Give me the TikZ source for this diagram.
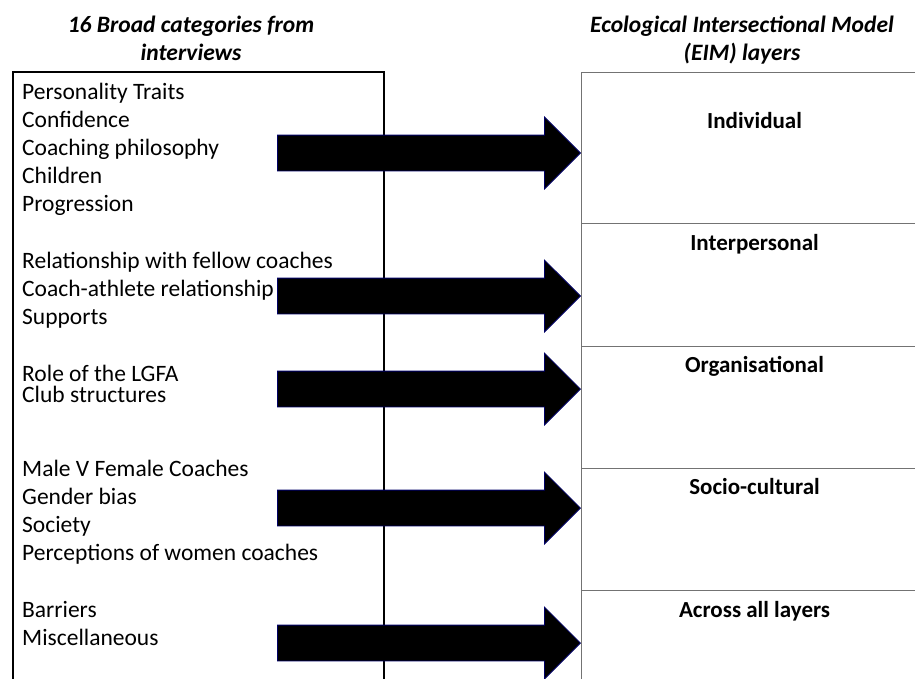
\documentclass[tikz,border=0pt]{standalone}
\usepackage{fontspec}
\setmainfont{Carlito}
\usetikzlibrary{positioning,shapes.arrows}

\begin{document}
\begin{tikzpicture}[x=1pt,y=-1pt,
  catbox/.style={draw,line width=1.8pt,minimum width=371pt,minimum height=660pt,anchor=north west},
  layer/.style={draw=black!55,line width=1.1pt,minimum width=346pt,anchor=north west},
  item/.style={align=left,anchor=base west,inner sep=0pt,font=\fontsize{23.5}{28}\selectfont},
  head/.style={align=center,anchor=base,inner sep=0pt,font=\fontsize{23.5}{28}\selectfont\bfseries\itshape},
  laytitle/.style={anchor=base,inner sep=0pt,font=\fontsize{23}{28}\selectfont\bfseries},
  bigarr/.style={single arrow,fill=black,draw=blue!40!black,line width=0.8pt,inner sep=0pt,
    text height=17.5pt,text depth=17.5pt,minimum height=303pt,
    single arrow head extend=18pt,single arrow tip angle=90,anchor=tip}
]
  \clip (0,0) rectangle (915,678);

  % headings (anchored at the last line)
  \node[head] (hcat) at (191,60) {16 Broad categories from\\interviews};
  \node[head] (heim) at (742,60) {Ecological Intersectional Model\\(EIM) layers};

  % left box and the categories
  \node[catbox] (cats) at (12,71) {};
  \node[item] (g1) at (22,211) {Personality Traits\\Confidence\\Coaching philosophy\\Children\\Progression};
  \node[item] (g2) at (22,324) {Relationship with fellow coaches\\Coach-athlete relationship\\Supports};
  \node[item,font=\fontsize{23.5}{21}\selectfont] (g3) at (22,402) {Role of the LGFA\\Club structures};
  \node[item] (g4) at (22,560) {Male V Female Coaches\\Gender bias\\Society\\Perceptions of women coaches};
  \node[item] (g5) at (22,645) {Barriers\\Miscellaneous};

  % EIM layers
  \node[layer,minimum height=151pt] (l1) at (581,72)  {};
  \node[layer,minimum height=123pt] (l2) at (581,223) {};
  \node[layer,minimum height=122pt] (l3) at (581,346) {};
  \node[layer,minimum height=122pt] (l4) at (581,468) {};
  \node[layer,minimum height=130pt] (l5) at (581,590) {};
  \node[laytitle] (t1) at (l1.north |- 0,128) {Individual};
  \node[laytitle] (t2) at (l2.north |- 0,250) {Interpersonal};
  \node[laytitle] (t3) at (l3.north |- 0,372) {Organisational};
  \node[laytitle] (t4) at (l4.north |- 0,494) {Socio-cultural};
  \node[laytitle] (t5) at (l5.north |- 0,617) {Across all layers};

  % block arrows
  \node[bigarr] (a1) at (l1.west |- 0,153) {};
  \node[bigarr] (a2) at (l2.west |- 0,296) {};
  \node[bigarr] (a3) at (l3.west |- 0,389) {};
  \node[bigarr] (a4) at (l4.west |- 0,508) {};
  \node[bigarr] (a5) at (l5.west |- 0,643) {};
\end{tikzpicture}
\end{document}
